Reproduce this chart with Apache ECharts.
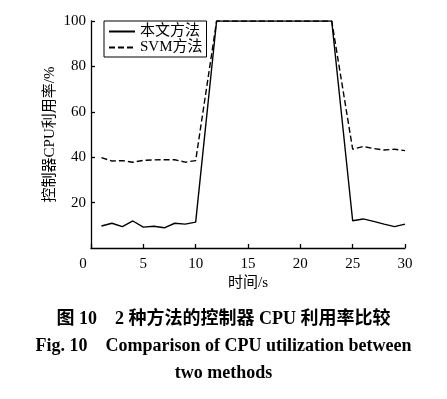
<!DOCTYPE html>
<html>
<head>
<meta charset="utf-8">
<script src="https://cdn.jsdelivr.net/npm/echarts@6/dist/echarts.min.js"></script>
<style>
  html, body { margin: 0; padding: 0; background: #fff; }
  #main { width: 447px; height: 399px; }
</style>
</head>
<body>
<div id="main"></div>
<script>
// 时间轴 (s)
var timeOurs = [1, 2, 3, 4, 5, 6, 7, 8, 9, 10, 12, 13, 14, 15, 16, 17, 18, 19, 20, 21, 22, 23, 25, 26, 27, 28, 29, 30];
var oursValues = [9.7, 10.9, 9.4, 11.9, 9.2, 9.6, 8.9, 10.9, 10.5, 11.4, 100, 100, 100, 100, 100, 100, 100, 100, 100, 100, 100, 100, 12.0, 12.8, 11.7, 10.5, 9.4, 10.5];
var timeSvm = [1, 2, 3, 4, 5, 6, 7, 8, 9, 10, 12, 13, 14, 15, 16, 17, 18, 19, 20, 21, 22, 23, 25, 26, 27, 28, 29, 30];
var svmValues = [39.8, 38.3, 38.5, 37.8, 38.6, 38.8, 38.9, 38.9, 37.8, 38.5, 100, 100, 100, 100, 100, 100, 100, 100, 100, 100, 100, 100, 43.5, 44.7, 43.8, 43.2, 43.5, 42.9];
var seriesNames = ['本文方法', 'SVM方法'];

var serif = '"Liberation Serif", "Noto Sans CJK SC", serif';

function pairs(xs, ys) {
    var out = [];
    for (var i = 0; i < xs.length; i++) {
        out.push([xs[i], ys[i]]);
    }
    return out;
}

var chartDom = document.getElementById('main');
var myChart = echarts.init(chartDom);
var option = {
    backgroundColor: '#fff',
    animation: false,
    textStyle: { fontFamily: serif, color: '#000' },
    grid: { left: 91, right: 42, top: 21, bottom: 151 },
    legend: {
        orient: 'vertical',
        left: 104,
        top: 21,
        padding: [3, 4, 2, 4],
        itemGap: 1,
        itemWidth: 26,
        itemHeight: 14,
        borderColor: '#000',
        borderWidth: 1,
        // 图例只画线，不画圆点
        itemStyle: { opacity: 0 },
        textStyle: { fontFamily: serif, fontSize: 15, color: '#000' },
        data: seriesNames
    },
    xAxis: {
        type: 'value',
        min: 0,
        max: 30,
        interval: 5,
        name: '时间/s',
        nameLocation: 'middle',
        nameGap: 28,
        nameMoveOverlap: false,
        nameTextStyle: { fontFamily: serif, fontSize: 15, color: '#000' },
        splitLine: { show: false },
        axisLine: { lineStyle: { color: '#000', width: 1.3 } },
        axisTick: { inside: true, length: 4, lineStyle: { color: '#000', width: 1.3 } },
        axisLabel: {
            fontFamily: serif,
            fontSize: 15,
            color: '#000',
            margin: 9,
            formatter: function (v) { return v === 0 ? '{z|0}' : String(v); },
            rich: { z: { fontFamily: serif, fontSize: 15, color: '#000', padding: [0, 16, 0, 0] } }
        }
    },
    yAxis: {
        type: 'value',
        min: 0,
        max: 100,
        interval: 20,
        name: '控制器CPU利用率/%',
        nameLocation: 'middle',
        nameGap: 33,
        nameMoveOverlap: false,
        nameTextStyle: { fontFamily: serif, fontSize: 15, color: '#000' },
        splitLine: { show: false },
        axisLine: { show: true, lineStyle: { color: '#000', width: 1.3 } },
        axisTick: { show: true, inside: true, length: 4, lineStyle: { color: '#000', width: 1.3 } },
        axisLabel: { fontFamily: serif, fontSize: 15, color: '#000', margin: 5, showMinLabel: false }
    },
    series: [
        {
            name: seriesNames[0],
            type: 'line',
            symbol: 'none',
            data: pairs(timeOurs, oursValues),
            lineStyle: { color: '#000', width: 1.4, type: 'solid' },
            itemStyle: { color: '#000' }
        },
        {
            name: seriesNames[1],
            type: 'line',
            symbol: 'none',
            data: pairs(timeSvm, svmValues),
            lineStyle: { color: '#000', width: 1.4, type: [6, 3] },
            itemStyle: { color: '#000' }
        }
    ],
    graphic: [
        {
            type: 'text',
            left: 'center',
            top: 310,
            style: { text: '图 10　2 种方法的控制器 CPU 利用率比较', font: 'bold 18px ' + serif, fill: '#000' }
        },
        {
            type: 'text',
            left: 'center',
            top: 337,
            style: { text: 'Fig. 10    Comparison of CPU utilization between', font: 'bold 18px ' + serif, fill: '#000' }
        },
        {
            type: 'text',
            left: 'center',
            top: 364,
            style: { text: 'two methods', font: 'bold 18px ' + serif, fill: '#000' }
        }
    ]
};
option && myChart.setOption(option);
</script>
</body>
</html>
